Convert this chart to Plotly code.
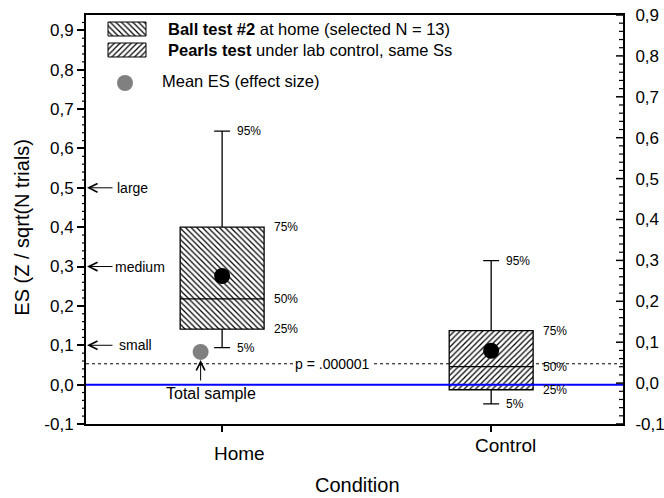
import plotly.graph_objects as go

# Effect-size distribution per condition (percentiles of ES across subjects)
conditions = ["Home", "Control"]
positions = [0, 1]
pct5 = [0.094, -0.049]
pct25 = [0.141, -0.013]
pct50 = [0.218, 0.046]
pct75 = [0.400, 0.137]
pct95 = [0.644, 0.315]
mean_es = [0.276, 0.086]
hatch_shapes = ["\\", "/"]

# Pooled ES of the total sample, plotted just left of the Home box
total_sample_x = -0.08
total_sample_es = 0.083

# ES corresponding to p = .000001
p_line_es = 0.053
p_label = "p = .000001"

# Cohen-style benchmarks marked on the left axis
benchmark_labels = ["small", "medium", "large"]
benchmark_values = [0.1, 0.3, 0.5]
benchmark_text_shift = [31, 27, 29]

legend_texts = [
    "<b>Ball test #2</b> at home (selected N = 13)",
    "<b>Pearls test</b> under lab control, same Ss",
]
mean_legend_text = "Mean ES (effect size)"

# Shared tick values/labels for both vertical scales
tick_values = [-0.1, 0.0, 0.1, 0.2, 0.3, 0.4, 0.5, 0.6, 0.7, 0.8, 0.9]
tick_labels = ["-0,1", "0,0", "0,1", "0,2", "0,3", "0,4", "0,5", "0,6",
               "0,7", "0,8", "0,9"]
MINOR_STEP = 0.02

# Axis ranges (left scale carries the data; right scale is a separate ruler)
x_range = [-0.506, 1.49]
left_range = [-0.1, 0.939]
right_range = [-0.1, 0.9]

FONT = "Liberation Sans, Arial, sans-serif"
BOX_W = 0.312
HATCH = dict(fgcolor="black", bgcolor="white", size=4, solidity=0.3,
             fillmode="replace")

# Plot-area geometry in pixels (used to place the hand-drawn legend)
W, H = 664, 498
M_L, M_R, M_T, M_B = 86, 41, 15, 74
PLOT_W = W - M_L - M_R
PLOT_H = H - M_T - M_B


def px_x(dx):
    """Horizontal pixel offset from the plot's left edge -> x data value."""
    return x_range[0] + dx / PLOT_W * (x_range[1] - x_range[0])


def px_y(dy):
    """Vertical pixel offset from the plot's top edge -> left-axis data value."""
    return left_range[1] - dy / PLOT_H * (left_range[1] - left_range[0])


def steps(rng, step):
    """Tick positions from the bottom of a range upward in fixed steps."""
    out, k = [], 0
    while rng[0] + k * step <= rng[1] + 1e-9:
        out.append(round(rng[0] + k * step, 4))
        k += 1
    return out


fig = go.Figure()

# Hatched interquartile boxes
fig.add_trace(go.Bar(
    x=positions,
    y=[q3 - q1 for q1, q3 in zip(pct25, pct75)],
    base=pct25,
    width=BOX_W,
    marker=dict(color="white", line=dict(width=0),
                pattern=dict(shape=hatch_shapes, **HATCH)),
    showlegend=False,
    hoverinfo="skip",
))

# Box outlines, medians and 5-95% whiskers
fig.add_trace(go.Box(
    x=positions,
    q1=pct25, median=pct50, q3=pct75,
    lowerfence=pct5, upperfence=pct95,
    width=BOX_W,
    whiskerwidth=0.19,
    line=dict(color="black", width=1.3),
    fillcolor="rgba(0,0,0,0)",
    boxpoints=False,
    showlegend=False,
    hoverinfo="skip",
))

# Means
fig.add_trace(go.Scatter(
    x=positions, y=mean_es, mode="markers",
    marker=dict(color="black", size=16),
    showlegend=False, hoverinfo="skip",
))

# Total sample mean
fig.add_trace(go.Scatter(
    x=[total_sample_x], y=[total_sample_es], mode="markers",
    marker=dict(color="#808080", size=16),
    showlegend=False, hoverinfo="skip",
))

# Hand-built legend: hatched swatches and the grey mean marker
swatch_y = [(7, 21), (28, 42)]
for (y0, y1), shape in zip(swatch_y, hatch_shapes):
    xs = [px_x(v) for v in (22, 60, 60, 22, 22)]
    ys = [px_y(v) for v in (y0, y0, y1, y1, y0)]
    fig.add_trace(go.Scatter(
        x=xs, y=ys, mode="lines", fill="toself", fillcolor="white",
        fillpattern=dict(shape=shape, **HATCH),
        line=dict(color="black", width=1),
        showlegend=False, hoverinfo="skip",
    ))
fig.add_trace(go.Scatter(
    x=[px_x(39)], y=[px_y(68)], mode="markers",
    marker=dict(color="#808080", size=16),
    showlegend=False, hoverinfo="skip",
))

# Empty trace so the right-hand axis is rendered
fig.add_trace(go.Scatter(
    x=[None], y=[None], yaxis="y2", showlegend=False, hoverinfo="skip",
))

annotations = []
for (y0, y1), txt in zip(swatch_y, legend_texts):
    annotations.append(dict(
        x=px_x(80), y=px_y((y0 + y1) / 2), xref="x", yref="y", text=txt,
        xanchor="left", yanchor="middle", showarrow=False,
        font=dict(family=FONT, size=16.5, color="black"),
    ))
annotations.append(dict(
    x=px_x(74), y=px_y(66), xref="x", yref="y", text=mean_legend_text,
    xanchor="left", yanchor="middle", showarrow=False,
    font=dict(family=FONT, size=16.5, color="black"),
))

# Percentile labels beside each box
for i, pos in enumerate(positions):
    for vals, lab, shift in [(pct95, "95%", 13), (pct75, "75%", 50),
                             (pct50, "50%", 50), (pct25, "25%", 50),
                             (pct5, "5%", 13)]:
        annotations.append(dict(
            x=pos, y=vals[i], xref="x", yref="y", text=lab,
            xanchor="left", yanchor="middle", xshift=shift,
            showarrow=False, font=dict(family=FONT, size=12, color="black"),
        ))

# Benchmark arrows pointing at the left axis
for lab, val, tshift in zip(benchmark_labels, benchmark_values, benchmark_text_shift):
    annotations.append(dict(
        x=0, y=val, xref="paper", yref="y", text="",
        showarrow=True, ax=28, ay=0, axref="pixel", ayref="pixel",
        arrowhead=5, arrowsize=1.7, arrowwidth=1, arrowcolor="black",
        standoff=1,
    ))
    annotations.append(dict(
        x=0, y=val, xref="paper", yref="y", text=lab,
        xanchor="left", yanchor="middle", xshift=tshift, showarrow=False,
        font=dict(family=FONT, size=14, color="black"),
    ))

# Arrow and caption for the total sample
annotations.append(dict(
    x=total_sample_x, y=total_sample_es, xref="x", yref="y", text="",
    showarrow=True, ax=0, ay=30, axref="pixel", ayref="pixel",
    arrowhead=5, arrowsize=1.7, arrowwidth=1, arrowcolor="black", standoff=8,
))
annotations.append(dict(
    x=total_sample_x, y=0, xref="x", yref="y", text="Total sample",
    xanchor="center", yanchor="top", xshift=10, yshift=2, showarrow=False,
    font=dict(family=FONT, size=16, color="black"),
))

# p-value label sitting on the dotted line
annotations.append(dict(
    x=0.411, y=p_line_es, xref="x", yref="y", text=p_label,
    xanchor="center", yanchor="middle", showarrow=False, bgcolor="white",
    font=dict(family=FONT, size=14, color="black"),
))

# Category labels and axis titles
for pos, name, xs, ys in zip(positions, conditions, [17, 14], [-29, -21]):
    annotations.append(dict(
        x=pos, y=0, xref="x", yref="paper", text=name,
        xanchor="center", yanchor="middle", xshift=xs, yshift=ys,
        showarrow=False, font=dict(family=FONT, size=19, color="black"),
    ))
annotations.append(dict(
    x=0.5, y=0, xref="paper", yref="paper", text="Condition",
    xanchor="center", yanchor="middle", xshift=3, yshift=-61,
    showarrow=False, font=dict(family=FONT, size=20, color="black"),
))
annotations.append(dict(
    x=0, y=0.48, xref="paper", yref="paper", text="ES (Z / sqrt(N trials)",
    textangle=-90, xanchor="center", yanchor="middle", xshift=-64,
    showarrow=False, font=dict(family=FONT, size=20, color="black"),
))

shapes = [
    dict(type="line", xref="paper", yref="y", x0=0, x1=1,
         y0=p_line_es, y1=p_line_es, layer="below",
         line=dict(color="black", width=1, dash="dot")),
    dict(type="line", xref="paper", yref="y", x0=0, x1=1, y0=0, y1=0,
         layer="above", line=dict(color="#0000ff", width=2)),
]

# Minor ticks: outward on the left scale, inward (with majors) on the right
for v in steps(left_range, MINOR_STEP):
    shapes.append(dict(
        type="line", xref="paper", yref="y", xsizemode="pixel", xanchor=0,
        x0=-4, x1=0, y0=v, y1=v, layer="above",
        line=dict(color="black", width=1.2),
    ))
for v in steps(right_range, MINOR_STEP):
    is_major = any(abs(v - t) < 1e-6 for t in tick_values)
    shapes.append(dict(
        type="line", xref="paper", yref="y2", xsizemode="pixel", xanchor=1,
        x0=-7 if is_major else -4, x1=0, y0=v, y1=v, layer="above",
        line=dict(color="black", width=1.5 if is_major else 1.2),
    ))

tickfont = dict(family=FONT, size=17, color="black")

fig.update_layout(
    width=W, height=H,
    margin=dict(l=M_L, r=M_R, t=M_T, b=M_B, autoexpand=False),
    paper_bgcolor="white", plot_bgcolor="white",
    font=dict(family=FONT, color="black"),
    barmode="overlay", boxmode="overlay",
    showlegend=False,
    xaxis=dict(
        range=x_range, tickmode="array", tickvals=positions,
        showticklabels=False, ticks="outside", ticklen=6, tickwidth=1.5,
        tickcolor="black", showline=True, linewidth=2, linecolor="black",
        mirror=True, showgrid=False, zeroline=False,
    ),
    # Left scale: labelled major ticks
    yaxis=dict(
        range=left_range, tickmode="array", tickvals=tick_values,
        ticktext=tick_labels,
        ticks="outside", ticklen=7, tickwidth=1.5, tickcolor="black",
        showline=True, linewidth=2, linecolor="black",
        showgrid=False, zeroline=False, tickfont=tickfont,
    ),
    # Right scale: labels (tick marks invisible, used only as label offset)
    yaxis2=dict(
        overlaying="y", side="right", anchor="x",
        range=right_range, tickmode="array", tickvals=tick_values,
        ticktext=tick_labels,
        ticks="outside", ticklen=7, tickcolor="rgba(0,0,0,0)",
        showline=True, linewidth=2, linecolor="black",
        showgrid=False, zeroline=False, tickfont=tickfont,
    ),
    annotations=annotations,
    shapes=shapes,
)

fig.write_html("out.html")
